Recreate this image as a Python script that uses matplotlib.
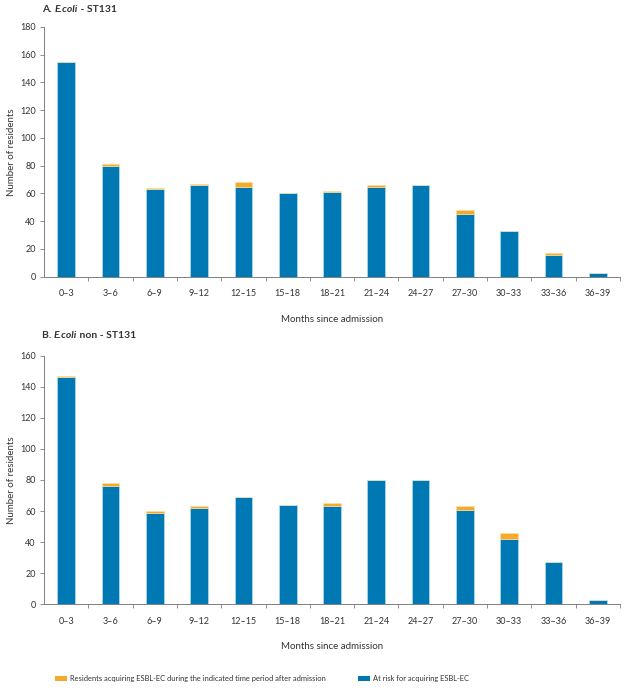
import matplotlib
matplotlib.use("Agg")
import matplotlib.pyplot as plt
from matplotlib.patches import Rectangle
import numpy as np

plt.rcParams['font.family'] = ['Lato', 'DejaVu Sans']

categories = ["0–3", "3–6", "6–9", "9–12", "12–15", "15–18", "18–21",
              "21–24", "24–27", "27–30", "30–33", "33–36", "36–39"]

# Panel A: E.coli ST131
a_at_risk = [155, 80, 63, 66, 65, 60, 61, 65, 66, 45, 33, 16, 3]
a_acquiring = [0, 1, 1, 1, 3, 0, 1, 1, 0, 3, 0, 1, 0]

# Panel B: E.coli non-ST131
b_at_risk = [146, 76, 59, 62, 69, 64, 63, 80, 80, 61, 42, 27, 3]
b_acquiring = [1, 2, 1, 1, 0, 0, 2, 0, 0, 2, 4, 0, 0]

legend_labels = ["Residents acquiring ESBL-EC during the indicated time period after admission",
                 "At risk for acquiring ESBL-EC"]

BLUE = "#0078B4"
ORANGE = "#F6A92B"
GRAY = "#7f7f7f"
TXT = "#333333"
W, H = 628, 692

fig = plt.figure(figsize=(W / 100, H / 100), dpi=100)


def px_axes(left, top, right, bottom):
    return fig.add_axes([left / W, 1 - bottom / H, (right - left) / W, (bottom - top) / H])


def draw_panel(ax, at_risk, acq, ymax, ystep):
    x = np.arange(len(categories))
    ax.bar(x, at_risk, width=0.4, color=BLUE, edgecolor="#bfe6f5", linewidth=0.4)
    ax.bar(x, acq, bottom=at_risk, width=0.4, color=ORANGE, edgecolor="#fbe3a8", linewidth=0.4)
    ax.set_xlim(-0.5, len(categories) - 0.5)
    ax.set_ylim(0, ymax)
    ax.set_yticks(np.arange(0, ymax + 1, ystep))
    ax.set_xticks(x)
    ax.set_xticklabels(categories)
    ax.set_xticks(np.arange(0.5, len(categories), 1.0), minor=True)
    ax.tick_params(axis='x', which='major', length=0, pad=9, labelsize=6.5, labelcolor=TXT)
    ax.tick_params(axis='x', which='minor', length=3, width=0.6, color=GRAY, direction='out')
    ax.tick_params(axis='y', length=3, width=0.6, color=GRAY, labelsize=6.5, labelcolor=TXT, pad=3)
    for s in ["top", "right"]:
        ax.spines[s].set_visible(False)
    for s in ["left", "bottom"]:
        ax.spines[s].set_color(GRAY)
        ax.spines[s].set_linewidth(0.7)
    ax.set_xlabel("Months since admission", fontsize=7, color=TXT, labelpad=12)
    ax.set_ylabel("Number of residents", fontsize=7, color=TXT, labelpad=3)


axA = px_axes(44, 27, 620, 276.7)
draw_panel(axA, a_at_risk, a_acquiring, 180, 20)
axB = px_axes(44, 355.7, 620, 604.3)
draw_panel(axB, b_at_risk, b_acquiring, 160, 20)

fig.canvas.draw()
renderer = fig.canvas.get_renderer()


def piece_title(x_px, y_px, pieces):
    x = x_px
    for txt, style in pieces:
        t = fig.text(x / W, 1 - y_px / H, txt, fontsize=7.5, fontweight='bold',
                     style=style, va='center', ha='left', color=TXT)
        bb = t.get_window_extent(renderer=renderer)
        x += bb.width


piece_title(42, 10, [("A. ", "normal"), ("E.coli", "italic"), (" - ST131", "normal")])
piece_title(42, 335, [("B. ", "normal"), ("E.coli", "italic"), (" non - ST131", "normal")])

# legend (manual entries); size chosen so the long label spans ~256 px like the reference
legend_colors = [ORANGE, BLUE]
legend_x = [55, 358]
ly = 678
probe = fig.text(0, 0, legend_labels[0], fontsize=6)
wpx = probe.get_window_extent(renderer=renderer).width
probe.remove()
lfs = 6 * 256 / wpx
for col, lx, lab in zip(legend_colors, legend_x, legend_labels):
    fig.patches.append(Rectangle((lx / W, 1 - (ly + 2.5) / H), 12 / W, 5 / H,
                                 transform=fig.transFigure, facecolor=col, edgecolor='none'))
    fig.text((lx + 15) / W, 1 - ly / H, lab, fontsize=lfs, color=TXT, va='center', ha='left')

fig.savefig("out.png", dpi=100)
